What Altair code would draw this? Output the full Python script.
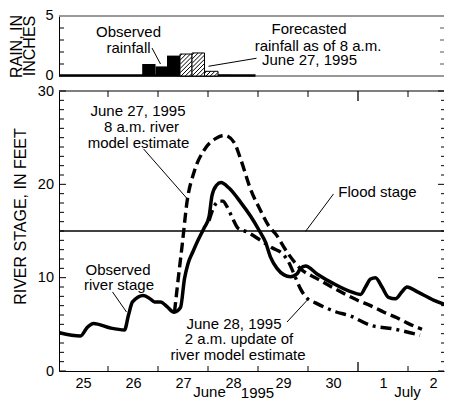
import altair as alt
import pandas as pd
import numpy as np

FONT = "Liberation Sans"

# ---------------- data (t = days since June 25, 1995 00:00) ----------------
day_labels = ["25", "26", "27", "28", "29", "30", "1", "2"]
day_label_t = [0.5, 1.5, 2.5, 3.5, 4.5, 5.5, 6.5, 7.5]
day_bounds = [1, 2, 3, 4, 5, 7]
month_bound = [6]
month_labels = ["June", "July"]
month_t = [3.03, 6.99]
year_label = ["1995"]
year_t = [3.99]

obs_t = [0.03, 0.45, 0.59, 0.71, 1.05, 1.33, 1.41, 1.49, 1.71, 1.85, 1.93, 2.05, 2.18,
         2.32, 2.45, 2.53, 2.60, 2.70, 2.80, 2.92, 3.02, 3.08, 3.17, 3.26, 3.42, 3.65,
         3.85, 4.03, 4.15, 4.25, 4.38, 4.52, 4.65, 4.78, 4.85, 4.95, 5.18, 5.51, 5.85,
         6.05, 6.15, 6.25, 6.35, 6.48, 6.61, 6.75, 6.88, 6.98, 7.18, 7.51, 7.88]
obs_ft = [4.1, 3.75, 4.7, 5.1, 4.6, 4.4, 6.0, 7.4, 8.1, 7.7, 7.4, 7.4, 6.9,
          6.3, 6.8, 9.9, 11.5, 12.8, 14.0, 15.3, 16.5, 18.8, 19.9, 20.2, 19.6, 18.1,
          16.6, 15.0, 13.8, 12.2, 11.0, 10.3, 10.1, 10.4, 11.0, 11.25, 10.4, 9.36, 8.5,
          8.2, 9.0, 9.85, 10.0, 9.0, 7.9, 7.75, 8.5, 9.0, 8.5, 7.6, 6.88]

est27_t = [2.33, 2.39, 2.49, 2.58, 2.72, 2.92, 3.15, 3.33, 3.52, 3.65, 3.85, 4.05,
           4.22, 4.35, 4.58, 4.85, 5.18, 5.51, 5.98, 6.25, 6.52, 6.78, 7.0, 7.28]
est27_ft = [6.3, 9.2, 13.8, 18.1, 21.3, 23.65, 24.9, 25.25, 24.5, 22.75, 19.5, 17.2,
            15.5, 14.7, 12.75, 10.96, 9.9, 8.9, 7.6, 7.0, 6.3, 5.7, 5.1, 4.47]

est28_t = [3.02, 3.12, 3.22, 3.30, 3.38, 3.48, 3.60, 3.78, 4.05, 4.28, 4.52, 4.62,
           4.75, 4.85, 4.98, 5.15, 5.55, 5.85, 6.25, 6.72, 7.24]
est28_ft = [16.1, 17.6, 18.2, 18.2, 17.6, 16.5, 15.3, 14.9, 14.0, 13.2, 12.4, 11.6,
            10.0, 8.8, 7.8, 7.3, 6.35, 5.9, 4.9, 4.5, 3.83]

flood_stage = 15

rain_obs_t0 = [1.684, 1.95, 2.18, 3.20]
rain_obs_t1 = [1.95, 2.18, 2.44, 3.45]
rain_obs_in = [1.0, 0.8, 1.7, 0.1]
rain_fc_t0 = [2.44, 2.68, 2.93]
rain_fc_t1 = [2.68, 2.93, 3.20]
rain_fc_in = [1.83, 1.92, 0.39]
rain_record = [0.02, 3.95]
rain_axis_vals = [0, 5]

# annotations (one row per line of text)
stage_notes_txt = ["June 27, 1995", "8 a.m. river", "model estimate",
                   "Observed", "river stage",
                   "June 28, 1995", "2 a.m. update of", "river model estimate",
                   "Flood stage"]
stage_notes_t = [1.60, 1.67, 1.61, 1.20, 1.22, 3.52, 3.62, 3.60, 6.39]
stage_notes_ft = [27.83, 26.15, 24.44, 10.83, 9.25, 5.04, 3.38, 1.71, 19.19]
stage_lead_t = [1.71, 1.09, 4.58, 5.51]
stage_lead_ft = [23.8, 8.47, 5.25, 18.97]
stage_lead_t2 = [2.61, 1.37, 5.00, 4.95]
stage_lead_ft2 = [18.3, 6.32, 7.68, 14.95]

rain_notes_txt = ["Observed", "rainfall", "Forecasted", "rainfall as of 8 a.m.", "June 27, 1995"]
rain_notes_t = [1.41, 1.41, 5.02, 5.20, 5.03]
rain_notes_in = [3.68, 2.35, 3.93, 2.52, 1.35]
rain_lead_t = [1.88, 3.01]
rain_lead_in = [2.33, 0.81]
rain_lead_t2 = [2.05, 3.97]
rain_lead_in2 = [1.0, 1.48]

rain_title = ["RAIN, IN", "INCHES"]

# ---------------- layout ----------------
W = 385
STAGE_H = 280
RAIN_H = 60
X_DOMAIN = [0.02, 7.72]
PX_DAY = W / (X_DOMAIN[1] - X_DOMAIN[0])
PX_IN = RAIN_H / 5.0
NOTE_FS = 15

xs = alt.Scale(domain=X_DOMAIN, nice=False, zero=False)
ys = alt.Scale(domain=[0, 30], nice=False)
yr = alt.Scale(domain=[0, 5], nice=False)

label_expr = "[" + ",".join("'%s'" % d for d in day_labels) + "][floor(datum.value)]"

common_axis = dict(ticks=False, tickSize=0, domain=True, domainColor="black", domainWidth=1,
                   grid=False, labelFontSize=14.5, labelFont=FONT, labelColor="black",
                   labelOverlap=False, labelFlush=False, labelBound=False)

xax = alt.Axis(values=day_label_t, labelExpr=label_expr, title=None, labelPadding=5, **common_axis)
yax = alt.Axis(values=[0, 10, 20, 30], labelPadding=5.5,
               title="RIVER STAGE, IN FEET", titleX=-38.5, titleY=125, titleAngle=270,
               titleAlign="center", titleBaseline="middle", titleFontSize=16,
               titleFontWeight="normal", titleFont=FONT, titleColor="black", **common_axis)
yrax = alt.Axis(values=rain_axis_vals, labels=False, labelPadding=5.5,
                title=rain_title[0], titleX=-43, titleY=30, titleAngle=270,
                titleAlign="center", titleBaseline="middle",
                titleFontSize=16, titleFontWeight="normal", titleFont=FONT,
                titleColor="black", **common_axis)


def X(f):
    return alt.X(f, type="quantitative", scale=xs, axis=xax)


def Y(f):
    return alt.Y(f, type="quantitative", scale=ys, axis=yax)


def XR(f):
    return alt.X(f, type="quantitative", scale=xs, axis=None)


def YR(f):
    return alt.Y(f, type="quantitative", scale=yr, axis=yrax)


# ---------------- stage panel ----------------
obs = pd.DataFrame({"t": obs_t, "v": obs_ft})
e27 = pd.DataFrame({"t": est27_t, "v": est27_ft})
e28 = pd.DataFrame({"t": est28_t, "v": est28_ft})

line_obs = alt.Chart(obs).mark_line(color="black", strokeWidth=3.5, interpolate="monotone",
                                    clip=True).encode(x=X("t"), y=Y("v"))
line_e27 = alt.Chart(e27).mark_line(color="black", strokeWidth=3.4, strokeDash=[10, 5],
                                    interpolate="monotone").encode(x=X("t"), y=Y("v"))
line_e28 = alt.Chart(e28).mark_line(color="black", strokeWidth=3.4, strokeDash=[11, 5, 3, 5],
                                    interpolate="monotone").encode(x=X("t"), y=Y("v"))

flood = alt.Chart(pd.DataFrame({"v": [flood_stage]})).mark_rule(color="black", strokeWidth=1.6).encode(
    y=Y("v"), x=alt.value(0), x2=alt.value(W))

top_line = alt.Chart(pd.DataFrame({"a": [0]})).mark_rule(color="black", strokeWidth=1.2).encode(
    x=alt.value(0), x2=alt.value(W), y=alt.value(0))

yt = pd.DataFrame({"v": [v for v in range(0, 31) if v % 10 != 0]})
yt10 = pd.DataFrame({"v": [0, 10, 20, 30]})
lt_minor = alt.Chart(yt).mark_rule(color="black", strokeWidth=1).encode(
    y=Y("v"), x=alt.value(0), x2=alt.value(5))
lt_major = alt.Chart(yt10).mark_rule(color="black", strokeWidth=1).encode(
    y=Y("v"), x=alt.value(0), x2=alt.value(7))
rt_minor = alt.Chart(yt).mark_rule(color="black", strokeWidth=1).encode(
    y=Y("v"), x=alt.value(W - 3), x2=alt.value(W))
rt_major = alt.Chart(yt10).mark_rule(color="black", strokeWidth=1).encode(
    y=Y("v"), x=alt.value(W - 6), x2=alt.value(W))

xt = pd.DataFrame({"t": day_bounds})
xm = pd.DataFrame({"t": month_bound})
bt = alt.Chart(xt).mark_rule(color="black", strokeWidth=1).encode(
    x=X("t"), y=alt.value(STAGE_H - 5), y2=alt.value(STAGE_H))
bt_m = alt.Chart(xm).mark_rule(color="black", strokeWidth=1.3).encode(
    x=X("t"), y=alt.value(STAGE_H - 9), y2=alt.value(STAGE_H))
tt = alt.Chart(xt).mark_rule(color="black", strokeWidth=1).encode(
    x=X("t"), y=alt.value(0), y2=alt.value(6))
tt_m = alt.Chart(xm).mark_rule(color="black", strokeWidth=1.3).encode(
    x=X("t"), y=alt.value(0), y2=alt.value(10))

months = alt.Chart(pd.DataFrame({"t": month_t, "txt": month_labels})).mark_text(
    font=FONT, fontSize=15, color="black", baseline="middle").encode(
    x=X("t"), y=alt.value(301), text="txt:N")
year = alt.Chart(pd.DataFrame({"t": year_t, "txt": year_label})).mark_text(
    font=FONT, fontSize=15, color="black", baseline="middle").encode(
    x=X("t"), y=alt.value(302), text="txt:N")

snotes = alt.Chart(pd.DataFrame({"t": stage_notes_t, "v": stage_notes_ft, "txt": stage_notes_txt})).mark_text(
    font=FONT, fontSize=NOTE_FS, color="black", baseline="middle", align="center").encode(
    x=X("t"), y=Y("v"), text="txt:N")
sleads = alt.Chart(pd.DataFrame({"t": stage_lead_t, "v": stage_lead_ft,
                                 "t2": stage_lead_t2, "v2": stage_lead_ft2})).mark_rule(
    color="black", strokeWidth=1).encode(x=X("t"), y=Y("v"), x2="t2:Q", y2="v2:Q")

stage = alt.layer(top_line, lt_minor, lt_major, rt_minor, rt_major, bt, bt_m, tt, tt_m,
                  flood, line_e28, line_e27, line_obs, sleads, snotes, months, year).properties(
    width=W, height=STAGE_H)

# ---------------- rain panel ----------------


def hatch(t0, t1, h, step=4.2):
    x0, x1 = t0 * PX_DAY, t1 * PX_DAY
    hp = h * PX_IN
    w = x1 - x0
    out = []
    for k in np.arange(-hp + 2.0, w, step):
        xa = max(0.0, k)
        xb = min(w, k + hp)
        if xb - xa > 0.3:
            out.append(((x0 + xa) / PX_DAY, (xa - k) / PX_IN, (x0 + xb) / PX_DAY, (xb - k) / PX_IN))
    return out


segs = []
for a, b, h in zip(rain_fc_t0, rain_fc_t1, rain_fc_in):
    segs += hatch(a, b, h)
hatch_df = pd.DataFrame(segs, columns=["t", "v", "t2", "v2"])

r_top = alt.Chart(pd.DataFrame({"a": [0]})).mark_rule(color="#777", strokeWidth=1.5).encode(
    x=alt.value(0), x2=alt.value(W), y=alt.value(0))
r_bot = alt.Chart(pd.DataFrame({"a": [0]})).mark_rule(color="#777", strokeWidth=1.5).encode(
    x=alt.value(0), x2=alt.value(W), y=alt.value(RAIN_H))
r_base = alt.Chart(pd.DataFrame({"t": [rain_record[0]], "t2": [rain_record[1]]})).mark_rule(
    color="black", strokeWidth=2.6).encode(x=XR("t"), x2="t2:Q", y=alt.value(RAIN_H - 0.5))
r_obs = alt.Chart(pd.DataFrame({"t": rain_obs_t0, "t2": rain_obs_t1, "v": rain_obs_in})).mark_rect(
    color="black").encode(x=XR("t"), x2="t2:Q", y=YR("v"), y2=alt.value(RAIN_H))
r_fc = alt.Chart(pd.DataFrame({"t": rain_fc_t0, "t2": rain_fc_t1, "v": rain_fc_in})).mark_rect(
    fill="white", stroke="black", strokeWidth=1).encode(x=XR("t"), x2="t2:Q", y=YR("v"), y2=alt.value(RAIN_H))
r_hatch = alt.Chart(hatch_df).mark_rule(color="black", strokeWidth=1).encode(
    x=XR("t"), y=YR("v"), x2="t2:Q", y2="v2:Q")

rt = pd.DataFrame({"v": [1, 2, 3, 4]})
r_lt = alt.Chart(rt).mark_rule(color="black", strokeWidth=1).encode(
    y=YR("v"), x=alt.value(0), x2=alt.value(5))
r_rt = alt.Chart(rt).mark_rule(color="#555", strokeWidth=1).encode(
    y=YR("v"), x=alt.value(W - 4), x2=alt.value(W))

r_labels = alt.Chart(pd.DataFrame({"v": rain_axis_vals, "txt": [str(v) for v in rain_axis_vals]})).mark_text(
    font=FONT, fontSize=14.5, color="black", baseline="middle", align="right").encode(
    x=alt.value(-5.5), y=YR("v"), text="txt:N")

rnotes = alt.Chart(pd.DataFrame({"t": rain_notes_t, "v": rain_notes_in, "txt": rain_notes_txt})).mark_text(
    font=FONT, fontSize=NOTE_FS, color="black", baseline="middle", align="center").encode(
    x=XR("t"), y=YR("v"), text="txt:N")
rleads = alt.Chart(pd.DataFrame({"t": rain_lead_t, "v": rain_lead_in,
                                 "t2": rain_lead_t2, "v2": rain_lead_in2})).mark_rule(
    color="black", strokeWidth=1).encode(x=XR("t"), y=YR("v"), x2="t2:Q", y2="v2:Q")
r_title2 = alt.Chart(pd.DataFrame({"txt": [rain_title[1]]})).mark_text(
    font=FONT, fontSize=16, color="black", baseline="middle", align="center", angle=270).encode(
    x=alt.value(-29.5), y=alt.value(30), text="txt:N")

rain = alt.layer(r_top, r_bot, r_base, r_obs, r_fc, r_hatch, r_lt, r_rt, r_labels, rleads,
                 rnotes, r_title2).properties(width=W, height=RAIN_H)

chart = alt.vconcat(rain, stage, spacing=0).properties(padding=0).configure_view(stroke=None)

chart.save("out.html", embed_options={"renderer": "svg", "actions": False})
